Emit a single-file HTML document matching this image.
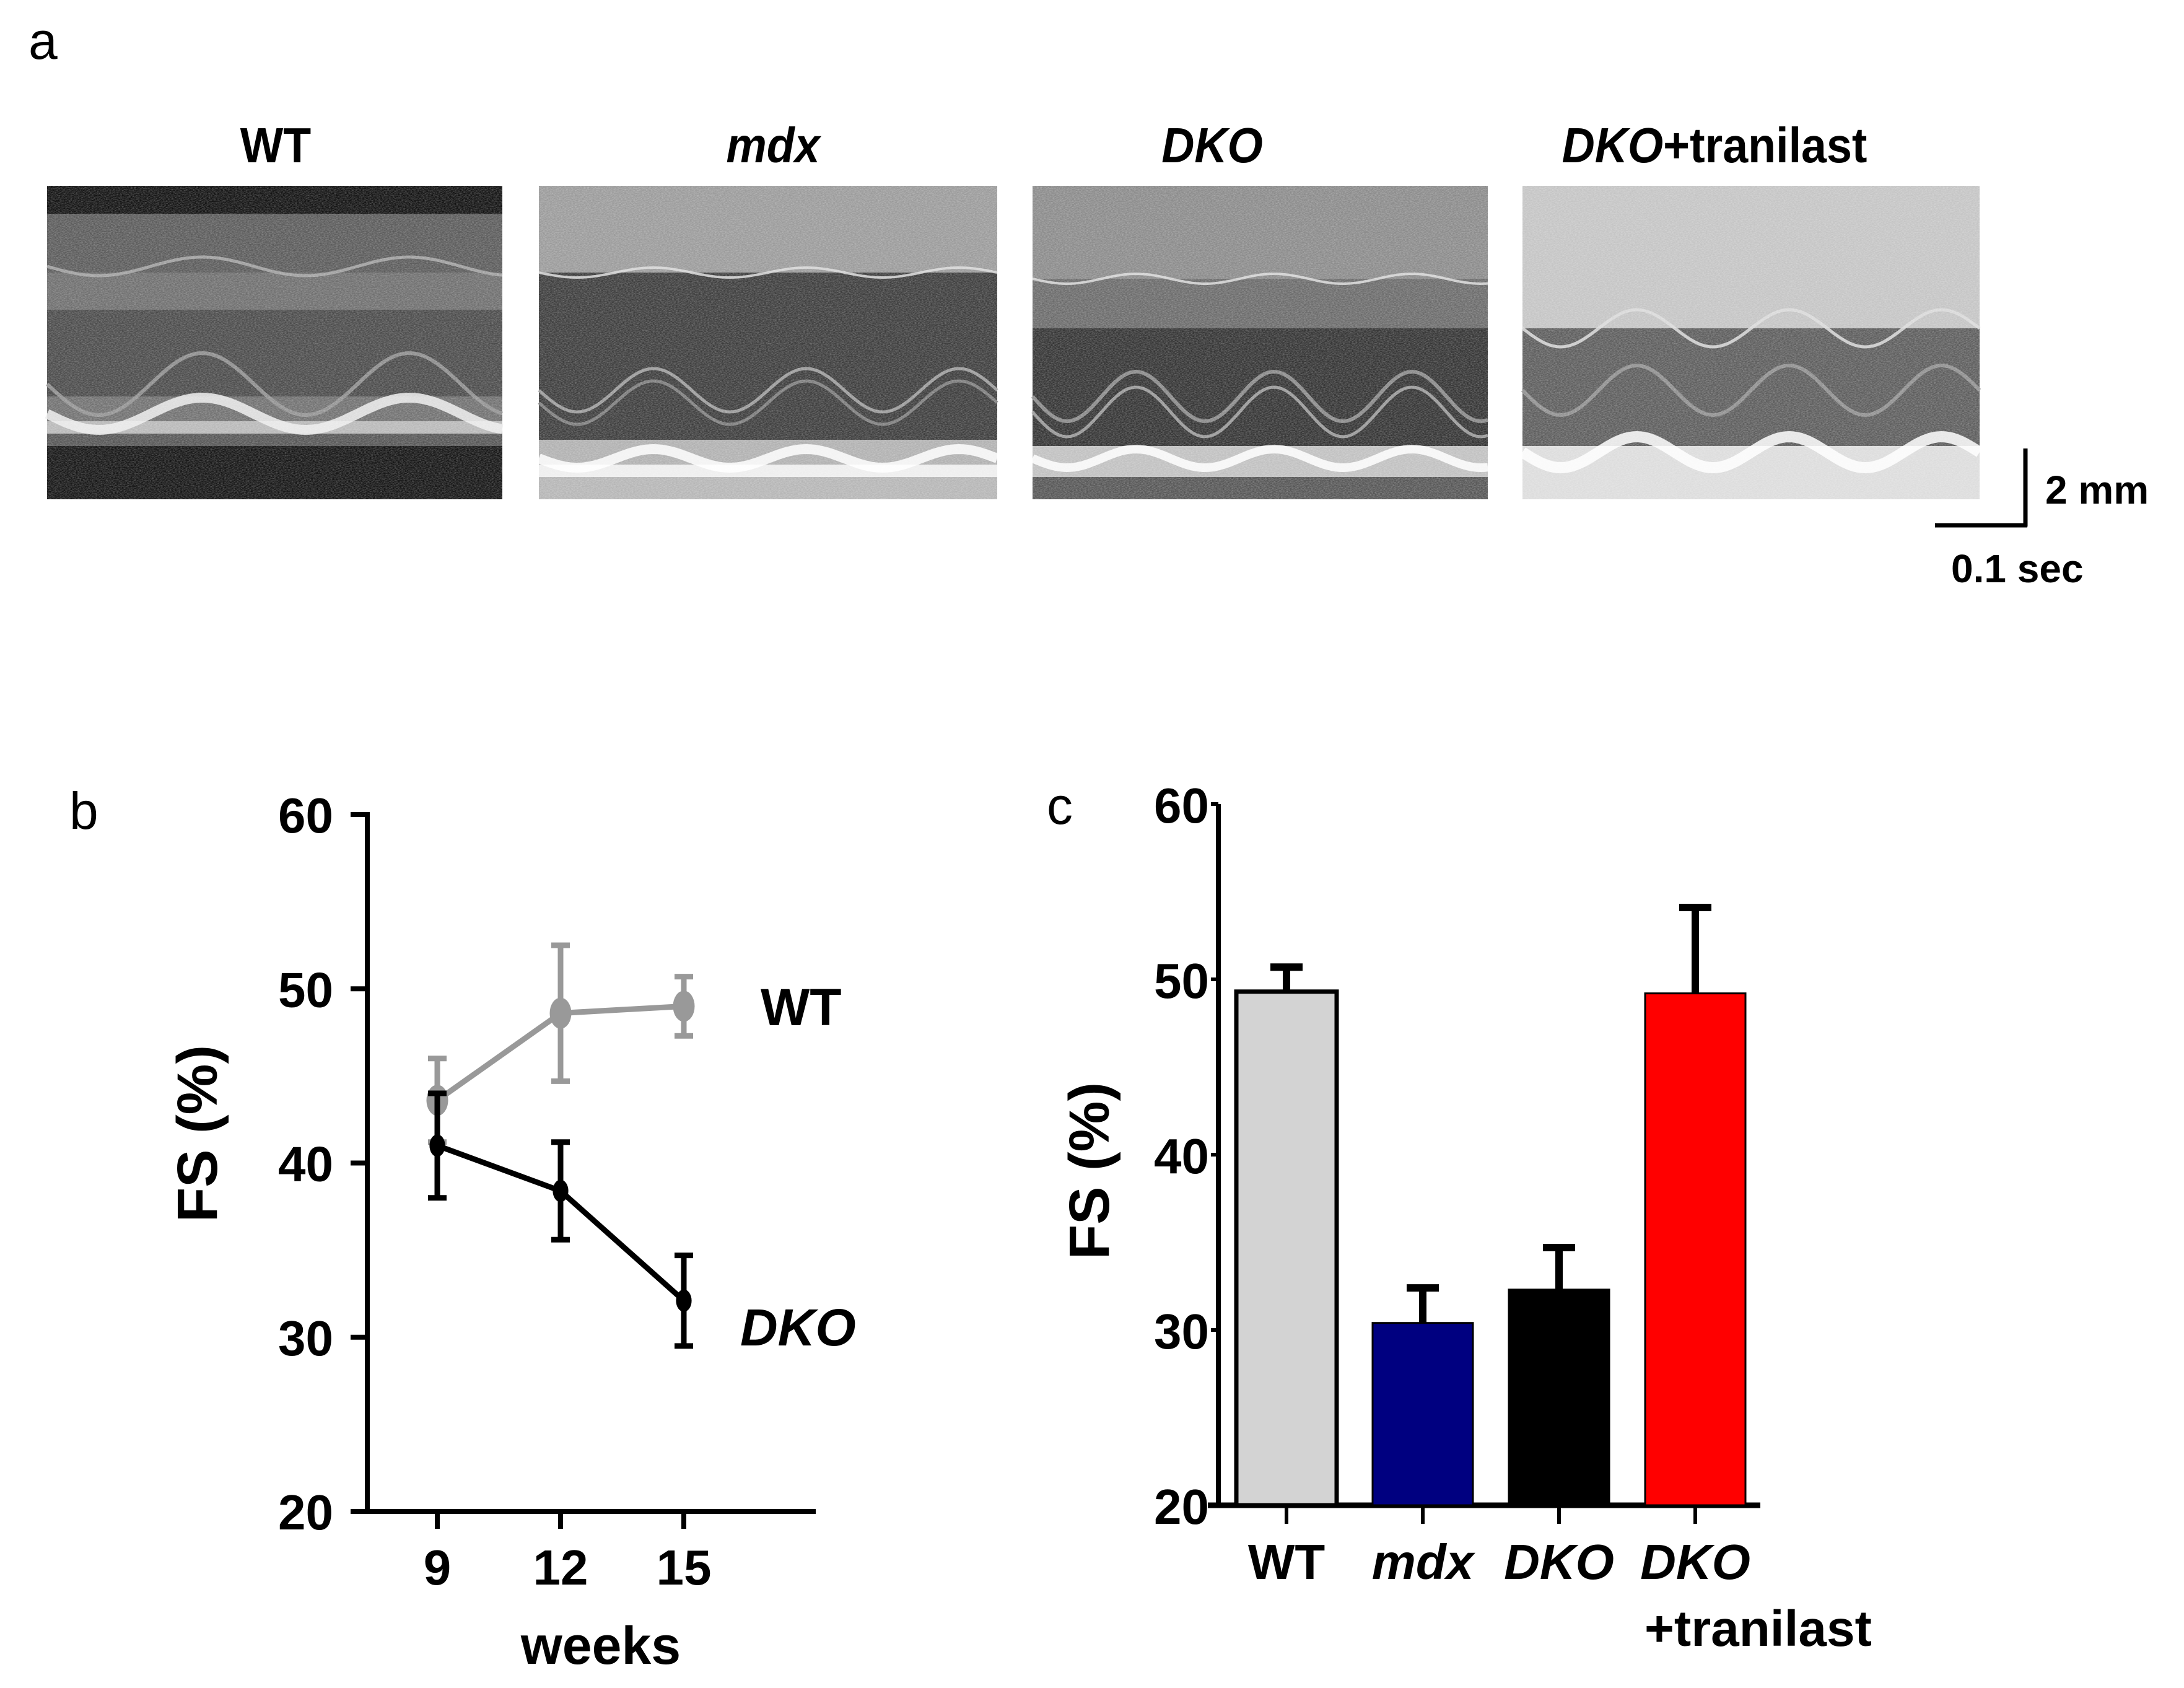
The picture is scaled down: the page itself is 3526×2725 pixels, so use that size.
<!DOCTYPE html>
<html><head><meta charset="utf-8">
<style>
html,body{margin:0;padding:0;background:#fff;}
body{width:3526px;height:2720px;overflow:hidden;}
svg text{font-family:"Liberation Sans",Arial,sans-serif;font-weight:bold;}
</style></head>
<body>
<svg id="fig" width="3526" height="2720" viewBox="0 0 3526 2720" xmlns="http://www.w3.org/2000/svg">
<defs>
<filter id="noise" x="0" y="0" width="1" height="1">
<feTurbulence type="fractalNoise" baseFrequency="0.35 0.9" numOctaves="2" seed="3" result="t"/>
<feColorMatrix in="t" type="matrix" values="0 0 0 0 0  0 0 0 0 0  0 0 0 0 0  0 0 0 -1.6 1.1" result="a"/>
<feComposite in="SourceGraphic" in2="a" operator="in"/>
</filter>
</defs>
<text x="46" y="95" font-size="84" style="font-weight:normal">a</text>
<g id="panelA"></g>
<g>
<line x1="3270" y1="724" x2="3270" y2="850" stroke="#000" stroke-width="7"/>
<line x1="3124" y1="848" x2="3273" y2="848" stroke="#000" stroke-width="7"/>
<text x="3302" y="813" font-size="64">2 mm</text>
<text x="3150" y="940" font-size="64">0.1 sec</text>
</g>
<text x="112" y="1338" font-size="84" style="font-weight:normal">b</text>
<g id="chartB"></g>
<text x="1690" y="1330" font-size="84" style="font-weight:normal">c</text>
<g id="chartC"></g>
</svg>
<script>
// ---- Panel b data ----
const weeks = [9, 12, 15];
const wtMean = [43.6, 48.6, 49.0];
const wtErr = [2.4, 3.9, 1.7];
const dkoMean = [41.0, 38.4, 32.1];
const dkoErr = [3.0, 2.8, 2.6];
const bTicksY = [20, 30, 40, 50, 60];
// ---- Panel c data ----
const groups = ["WT", "mdx", "DKO", "DKO"];
const groupItalic = [false, true, true, true];
const barMeans = [49.3, 30.4, 32.3, 49.2];
const barErrs = [1.4, 2.0, 2.4, 4.9];
const barColors = ["#d3d3d3", "#000080", "#000000", "#ff0000"];
const cTicksY = [20, 30, 40, 50, 60];

const NS = "http://www.w3.org/2000/svg";
function mk(tag, attrs, parent){const e=document.createElementNS(NS,tag);for(const k in attrs)e.setAttribute(k,attrs[k]);parent.appendChild(e);return e;}

// ---------- Panel a (decorative echo images) ----------
const A = document.getElementById('panelA');
const panels = [
 {x:76, w:735, tx:445, title:"WT", it:false, bands:[["#111",0,45],["#5a5a5a",45,140],["#6e6e6e",140,200],["#4a4a4a",200,340],["#707070",340,380],["#b8b8b8",380,400],["#555",400,420],["#141414",420,506]], waves:[[368,26,2.2,"#eee",16],[320,50,2.2,"#999",6],[130,15,2.2,"#aaa",5]]},
 {x:870, w:740, tx:1248, title:"mdx", it:true, bands:[["#9a9a9a",0,140],["#3c3c3c",140,410],["#b0b0b0",410,450],["#eeeeee",450,470],["#b5b5b5",470,506]], waves:[[440,15,3,"#fff",16],[330,35,3,"#aaa",5],[350,35,3,"#888",5],[140,8,3,"#ddd",4]]},
 {x:1667, w:735, tx:1957, title:"DKO", it:false, itAll:true, bands:[["#8a8a8a",0,150],["#6a6a6a",150,230],["#333",230,420],["#c0c0c0",420,470],["#555",470,506]], waves:[[440,15,3.3,"#fff",14],[340,40,3.3,"#999",6],[365,40,3.3,"#aaa",5],[150,8,3.3,"#ddd",4]]},
 {x:2458, w:738, tx:2768, title:"tranilast", it:false, pre:"DKO", bands:[["#c4c4c4",0,230],["#5c5c5c",230,420],["#dcdcdc",420,506]], waves:[[430,25,3,"#fff",18],[330,40,3,"#999",6],[230,30,3,"#ddd",5]]}
];
panels.forEach((p,i)=>{
  const g = mk('g',{},A);
  
  
  const y0=300, H=506;
  p.bands.forEach(b=>{mk('rect',{x:p.x,y:y0+b[1],width:p.w,height:b[2]-b[1],fill:b[0]},g);});
  p.waves.forEach(wv=>{
    let d="";
    for(let k=0;k<=120;k++){const xx=p.x+p.w*k/120;const yy=y0+wv[0]+wv[1]*Math.sin(2*Math.PI*wv[2]*k/120);d+=(k?"L":"M")+xx.toFixed(1)+","+yy.toFixed(1);}
    mk('path',{d:d,stroke:wv[3],"stroke-width":wv[4],fill:"none",opacity:0.85},g);
  });
  mk('rect',{x:p.x,y:y0,width:p.w,height:H,fill:"#fff",opacity:0.35,filter:"url(#noise)"},g);
  const t = mk('text',{x:p.tx,y:262,"font-size":80,"text-anchor":"middle",transform:`translate(${p.tx} 0) scale(0.92 1) translate(${-p.tx} 0)`},g);
  
  
  if(p.pre){
    const s1=mk('tspan',{"font-style":"italic"},t); s1.textContent="DKO";
    const s2=mk('tspan',{},t); s2.textContent="+tranilast";
  } else {
    if(p.it||p.itAll) t.setAttribute('font-style','italic');
    t.textContent=p.title;
  }
});

// ---------- Panel b ----------
const B = document.getElementById('chartB');
const bAxX = 593, bY60 = 1315, bY20 = 2440;
const byScale = v => bY20 - (v-20)/40*(bY20-bY60);
const bxScale = w => 706 + (w-9)/3*199;
mk('line',{x1:bAxX,y1:bY60-4,x2:bAxX,y2:bY20+4,stroke:"#000","stroke-width":8},B);
mk('line',{x1:bAxX-4,y1:bY20,x2:1317,y2:bY20,stroke:"#000","stroke-width":8},B);
bTicksY.forEach(v=>{
  const y=byScale(v);
  mk('line',{x1:566,y1:y,x2:bAxX,y2:y,stroke:"#000","stroke-width":8},B);
  const t=mk('text',{x:538,y:y+29,"font-size":80,"text-anchor":"end"},B);
  
  
  t.textContent=v;
});
weeks.forEach(w=>{
  const x=bxScale(w);
  mk('line',{x1:x,y1:bY20,x2:x,y2:bY20+28,stroke:"#000","stroke-width":8},B);
  const t=mk('text',{x:x,y:2558,"font-size":80,"text-anchor":"middle"},B);
  
  
  t.textContent=w;
});
const wl=mk('text',{x:970,y:2686,"font-size":86,"text-anchor":"middle"},B);


wl.textContent="weeks";
const bl=mk('text',{x:0,y:0,"font-size":92,"text-anchor":"middle",transform:"translate(350,1830) rotate(-90)"},B);


bl.textContent="FS (%)";
function series(means, errs, color, name, ry){
  const g=mk('g',{},B);
  
  
  const pts=means.map((m,i)=>bxScale(weeks[i]).toFixed(1)+","+byScale(m).toFixed(1)).join(" ");
  mk('polyline',{points:pts,fill:"none",stroke:color,"stroke-width":9},g);
  means.forEach((m,i)=>{
    const x=bxScale(weeks[i]);
    const yt=byScale(m+errs[i]), yb=byScale(m-errs[i]);
    const e=mk('path',{d:`M${x},${yt}L${x},${yb}M${x-15},${yt}L${x+15},${yt}M${x-15},${yb}L${x+15},${yb}`,stroke:color,"stroke-width":9,fill:"none"},g);
    
    
    const c=mk('ellipse',{cx:x,cy:byScale(m),rx:ry*0.7,ry:ry,fill:color},g);
    
    
  });
}
series(wtMean, wtErr, "#999999", "wt-series", 25);
series(dkoMean, dkoErr, "#000000", "dko-series", 18);
const lw=mk('text',{x:1228,y:1655,"font-size":84},B);


lw.textContent="WT";
const ld=mk('text',{x:1195,y:2172,"font-size":84,"font-style":"italic"},B);


ld.textContent="DKO";

// ---------- Panel c ----------
const C = document.getElementById('chartC');
const cAxX = 1967, cY60 = 1298, cY20 = 2430;
const cyScale = v => cY20 - (v-20)/40*(cY20-cY60);
const cxCenter = i => 2077 + i*220;
const barW = 162;
mk('line',{x1:cAxX,y1:cY60,x2:cAxX,y2:cY20+4,stroke:"#000","stroke-width":8},C);
mk('line',{x1:1950,y1:cY20,x2:2842,y2:cY20,stroke:"#000","stroke-width":9},C);
cTicksY.forEach(v=>{
  const y=cyScale(v);
  mk('line',{x1:1955,y1:y,x2:cAxX,y2:y,stroke:"#000","stroke-width":6},C);
  const t=mk('text',{x:1952,y:y+30,"font-size":80,"text-anchor":"end"},C);
  
  
  t.textContent=v;
});
barMeans.forEach((m,i)=>{
  const x=cxCenter(i);
  const top=cyScale(m), etop=cyScale(m+barErrs[i]);
  const e=mk('path',{d:`M${x},${etop}L${x},${top}M${x-26},${etop}L${x+26},${etop}`,stroke:"#000","stroke-width":12,fill:"none"},C);
  
  
  const r=mk('rect',{x:x-barW/2,y:top,width:barW,height:cY20-top,fill:barColors[i],stroke:"#000","stroke-width":i==0?7:3},C);
  
  
  mk('line',{x1:x,y1:cY20,x2:x,y2:cY20+30,stroke:"#000","stroke-width":6},C);
  const t=mk('text',{x:x,y:2549,"font-size":80,"text-anchor":"middle"},C);
  if(groupItalic[i]) t.setAttribute('font-style','italic');
  
  
  t.textContent=groups[i];
});
const tr=mk('text',{x:2655,y:2657,"font-size":82},C);


tr.textContent="+tranilast";
const cl=mk('text',{x:0,y:0,"font-size":92,"text-anchor":"middle",transform:"translate(1790,1890) rotate(-90)"},C);


cl.textContent="FS (%)";
</script>
</body></html>
